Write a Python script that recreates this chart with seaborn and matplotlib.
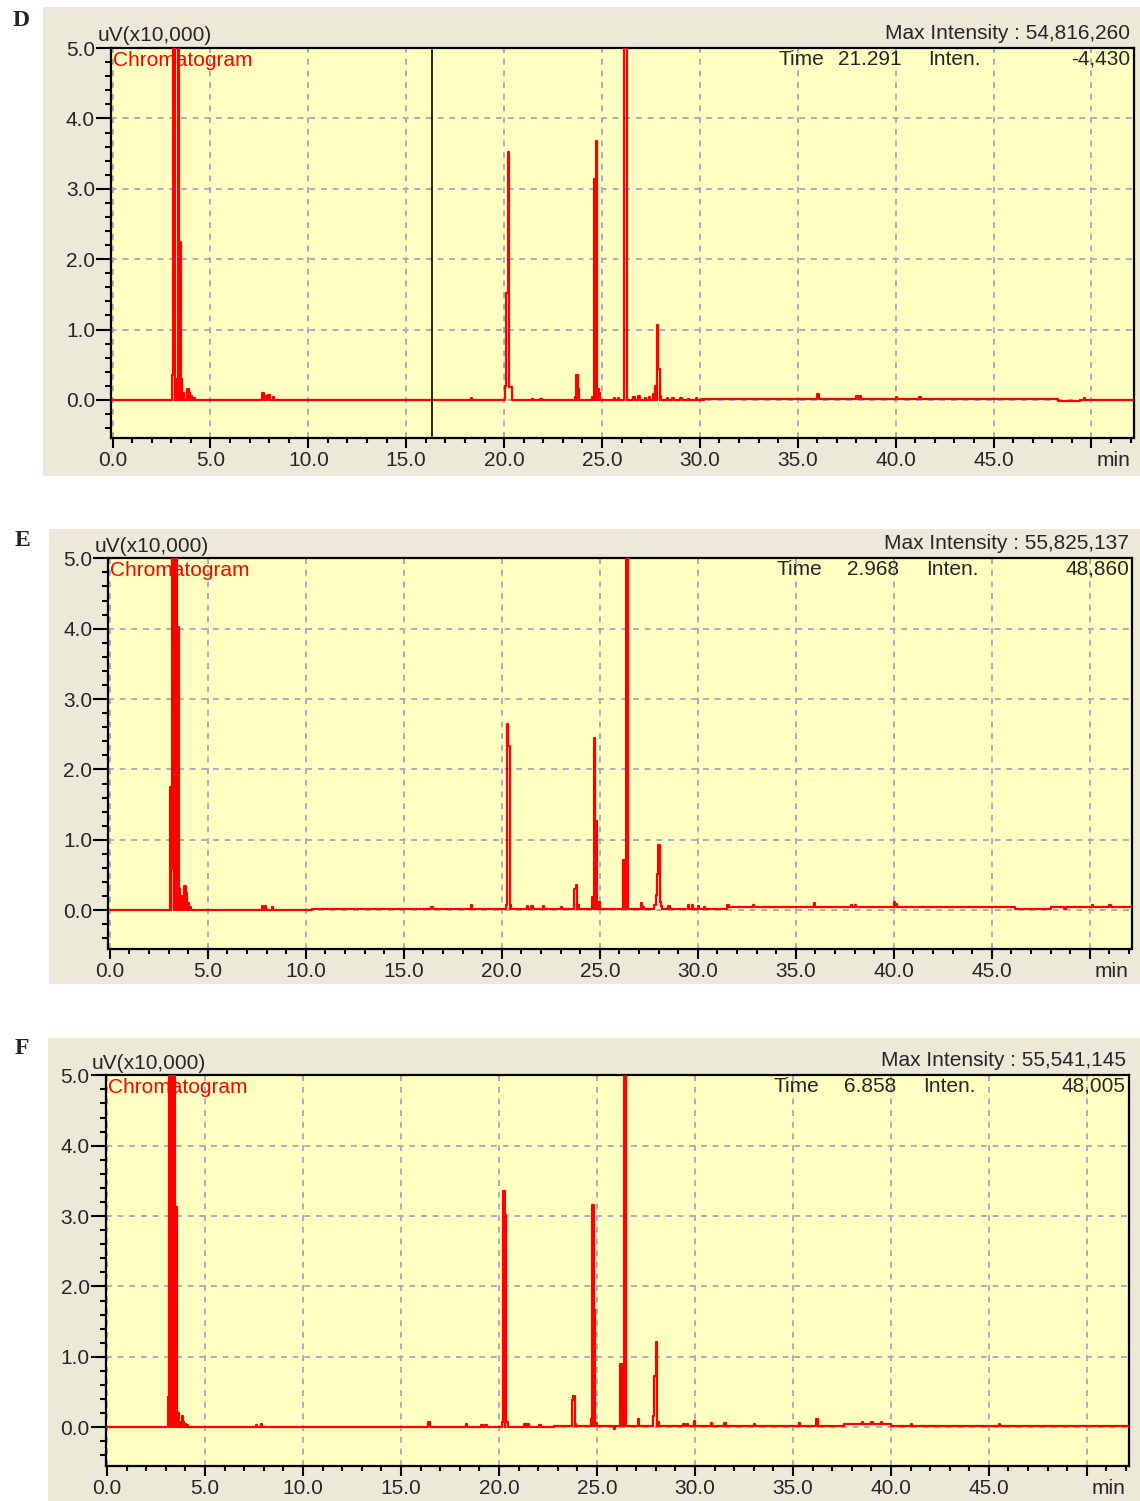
import matplotlib
matplotlib.use('Agg')
import matplotlib.pyplot as plt
from matplotlib.patches import Rectangle
from matplotlib.ticker import FixedLocator, FixedFormatter, MultipleLocator
import pandas as pd
import seaborn as sns

# ---- data (intensity in uV x 10,000, time in min) ----
panel_names = ['D', 'E', 'F']
max_intensity = ['54,816,260', '55,825,137', '55,541,145']
cursor_time = ['21.291', '2.968', '6.858']
cursor_inten = ['-4,430', '48,860', '48,005']
d_cursor_line = 16.33

d_base_t = [0.0, 30.2, 48.3, 49.4]
d_base_h = [0.0, 0.01, -0.02, 0.0]
d_peak_t = [3.05, 3.10, 3.18, 3.33, 3.42, 3.50, 3.60, 3.82, 3.90, 4.00, 4.12,
            7.65, 7.80, 7.95, 8.20, 18.30,
            20.05, 20.12, 20.19, 20.26, 20.33, 21.40, 21.85,
            23.60, 23.68, 23.76, 24.50, 24.60, 24.68, 24.76, 24.84,
            25.60, 25.80, 26.12, 26.19, 26.60, 26.85, 27.20, 27.40,
            27.60, 27.72, 27.80, 27.87, 27.95,
            28.30, 28.60, 29.00, 29.40, 29.80, 30.10,
            36.00, 38.00, 38.15, 40.00, 41.20, 49.60]
d_peak_h = [0.35, 5.60, 0.30, 5.60, 2.25, 0.30, 0.10, 0.15, 0.10, 0.06, 0.03,
            0.10, 0.06, 0.07, 0.04, 0.03,
            0.20, 1.52, 3.52, 0.19, 0.19, 0.02, 0.02,
            0.04, 0.35, 0.15, 0.04, 3.14, 3.68, 0.15, 0.10,
            0.03, 0.03, 5.60, 5.60, 0.04, 0.06, 0.03, 0.04,
            0.08, 0.20, 1.06, 0.44, 0.06,
            0.03, 0.03, 0.03, 0.02, 0.03, 0.02,
            0.07, 0.04, 0.04, 0.03, 0.03, 0.03]

e_base_t = [0.0, 10.3, 31.5, 46.2, 48.0]
e_base_h = [0.0, 0.02, 0.04, 0.02, 0.04]
e_peak_t = [3.05, 3.12, 3.18, 3.26, 3.33, 3.45, 3.53, 3.62, 3.72, 3.80, 3.88, 3.96, 4.06,
            7.75, 7.90, 8.25, 16.40, 18.40,
            20.20, 20.25, 20.32, 20.40, 21.27, 21.50, 22.10, 23.00,
            23.70, 23.77, 23.85, 24.62, 24.70, 24.78, 24.86, 24.94,
            26.20, 26.32, 26.39, 27.10, 27.20,
            27.78, 27.84, 27.91, 27.98, 28.05, 28.12,
            28.50, 29.50, 29.70, 30.00, 30.30, 31.50, 32.80,
            35.90, 37.80, 38.00, 40.00, 40.10, 48.70, 50.10, 51.00]
e_peak_h = [1.75, 0.58, 5.60, 0.58, 5.60, 4.03, 0.30, 0.20, 0.10, 0.35, 0.25, 0.10, 0.04,
            0.06, 0.06, 0.04, 0.03, 0.05,
            0.06, 2.62, 2.31, 0.05, 0.04, 0.04, 0.04, 0.03,
            0.28, 0.34, 0.05, 0.16, 2.43, 1.25, 0.10, 0.10,
            0.69, 5.60, 5.60, 0.08, 0.03,
            0.06, 0.20, 0.49, 0.91, 0.10, 0.04,
            0.04, 0.05, 0.05, 0.04, 0.03, 0.03, 0.03,
            0.06, 0.04, 0.04, 0.07, 0.05, -0.03, 0.03, 0.03]

f_base_t = [0.0, 22.8, 37.6, 40.0]
f_base_h = [0.0, 0.02, 0.04, 0.02]
f_peak_t = [3.10, 3.14, 3.22, 3.30, 3.38, 3.50, 3.58, 3.66, 3.80, 3.88, 3.96, 4.06,
            7.60, 7.85, 16.40, 18.30, 19.10, 19.30,
            20.15, 20.22, 20.30, 20.37, 21.30, 21.45, 22.05,
            23.72, 23.79, 23.87, 24.68, 24.77, 24.85, 24.93, 25.85,
            26.20, 26.36, 26.43, 27.08,
            27.86, 27.93, 28.00, 28.08,
            29.40, 29.60, 29.95, 30.80, 31.50, 33.00, 35.30, 36.20,
            38.50, 39.00, 39.50, 41.00, 45.50]
f_peak_h = [0.43, 5.60, 5.60, 0.43, 5.60, 3.13, 0.20, 0.08, 0.16, 0.08, 0.05, 0.03,
            0.03, 0.04, 0.08, 0.04, 0.03, 0.03,
            0.08, 3.36, 3.02, 0.08, 0.04, 0.04, 0.03,
            0.37, 0.42, 0.02, 0.10, 3.14, 1.65, 0.04, -0.04,
            0.88, 5.60, 5.60, 0.10,
            0.14, 0.71, 1.19, 0.05,
            0.03, 0.03, 0.07, 0.04, 0.04, 0.03, 0.04, 0.10,
            0.03, 0.03, 0.04, 0.02, 0.02]

x_major = [0, 5, 10, 15, 20, 25, 30, 35, 40, 45, 50]
x_labels = ['0.0', '5.0', '10.0', '15.0', '20.0', '25.0', '30.0', '35.0', '40.0', '45.0', '']
y_major = [0, 1, 2, 3, 4, 5]
y_labels = ['0.0', '1.0', '2.0', '3.0', '4.0', '5.0']

PEAK_W = 0.07
T_END = 52.3


def build_trace(base_t, base_h, peak_t, peak_h):
    # step trace: baseline level plus any peak covering that instant
    edges = sorted(set(base_t) | set(peak_t) | {t + PEAK_W for t in peak_t} | {T_END})
    vals = []
    for t in edges:
        lvl = [h for b, h in zip(base_t, base_h) if b <= t][-1]
        hs = [h for p, h in zip(peak_t, peak_h) if p <= t < p + PEAK_W]
        vals.append(lvl + (max(hs, key=abs) if hs else 0.0))
    return pd.DataFrame({'time': edges, 'inten': vals})


traces = [build_trace(d_base_t, d_base_h, d_peak_t, d_peak_h),
          build_trace(e_base_t, e_base_h, e_peak_t, e_peak_h),
          build_trace(f_base_t, f_base_h, f_peak_t, f_peak_h)]

sns.set_style('ticks')
plt.rcParams['font.family'] = ['Liberation Sans', 'DejaVu Sans']

W, H = 1140, 1501
fig = plt.figure(figsize=(W / 100, H / 100), dpi=100)

# pixel boxes (left, top, right, bottom) for grey frame and plot area
frames = [(43, 7, 1140, 476), (49, 529, 1140, 984), (48, 1038, 1140, 1501)]
plots = [(111, 47.7, 1133.5, 438.3), (108.3, 558, 1132, 948.5), (105.5, 1075, 1129, 1465.5)]
letter_pos = [(21, 20), (22, 540), (22, 1048)]

GRID_C = '#ABADBE'
FS = 15

for i in range(3):
    l, t, r, b = frames[i]
    fig.add_artist(Rectangle((l / W, 1 - b / H), (r - l) / W, (b - t) / H,
                             transform=fig.transFigure, facecolor='#ECE9D8',
                             edgecolor='none', zorder=-1))
    l, t, r, b = plots[i]
    ax = fig.add_axes([l / W, 1 - b / H, (r - l) / W, (b - t) / H])
    ax.set_facecolor('#FFFFC2')

    sns.lineplot(data=traces[i], x='time', y='inten', ax=ax, color='red', lw=1.6,
                 drawstyle='steps-post', estimator=None, sort=False, legend=False, zorder=3)
    if i == 0:
        ax.axvline(d_cursor_line, ymin=0.006, ymax=0.994, color='black', lw=1.2, zorder=4)

    ax.set_xlim(-0.08, 52.15)
    ax.set_ylim(-0.545, 5.005)
    ax.set_xlabel('')
    ax.set_ylabel('')

    ax.xaxis.set_major_locator(FixedLocator(x_major))
    ax.xaxis.set_major_formatter(FixedFormatter(x_labels))
    ax.xaxis.set_minor_locator(MultipleLocator(1))
    ax.yaxis.set_major_locator(FixedLocator(y_major))
    ax.yaxis.set_major_formatter(FixedFormatter(y_labels))
    ax.yaxis.set_minor_locator(MultipleLocator(0.2))

    ax.tick_params(axis='x', which='major', length=7.2, width=1.5, pad=2.2,
                   labelsize=FS, direction='out', color='black')
    ax.tick_params(axis='x', which='minor', length=3.6, width=1.5, direction='out', color='black')
    ax.tick_params(axis='y', which='major', length=11, width=1.5, pad=0.5,
                   labelsize=FS, direction='out', color='black')
    ax.tick_params(axis='y', which='minor', length=4.5, width=1.5, direction='out', color='black')

    ax.grid(True, which='major', color=GRID_C, linestyle=(0, (3, 3)), lw=1.4, zorder=1)
    ax.set_axisbelow(True)
    for sp in ax.spines.values():
        sp.set_visible(True)
        sp.set_color('black')
        sp.set_linewidth(1.6)

    ax.text(-0.0135, 1.030, 'uV(x10,000)', transform=ax.transAxes, fontsize=FS,
            ha='left', va='center', clip_on=False)
    ax.text(0.9966, 1.0376, 'Max Intensity : ' + max_intensity[i], transform=ax.transAxes,
            fontsize=FS, ha='right', va='center', clip_on=False)
    ax.text(0.002, 0.9685, 'Chromatogram', transform=ax.transAxes, fontsize=FS,
            color='red', ha='left', va='center', zorder=5)
    ax.text(0.653, 0.971, 'Time', transform=ax.transAxes, fontsize=FS, ha='left', va='center')
    ax.text(0.773, 0.971, cursor_time[i], transform=ax.transAxes, fontsize=FS,
            ha='right', va='center')
    ax.text(0.799, 0.971, 'Inten.', transform=ax.transAxes, fontsize=FS, ha='left', va='center')
    ax.text(0.997, 0.971, cursor_inten[i], transform=ax.transAxes, fontsize=FS,
            ha='right', va='center')
    ax.text(0.997, -0.0333, 'min', transform=ax.transAxes, fontsize=FS,
            ha='right', va='top', clip_on=False)

    lx, ly = letter_pos[i]
    fig.text(lx / W, 1 - ly / H, panel_names[i], fontsize=17, fontweight='bold',
             family=['Liberation Serif', 'DejaVu Serif'], ha='center', va='center')

fig.savefig('out.png', dpi=100)
